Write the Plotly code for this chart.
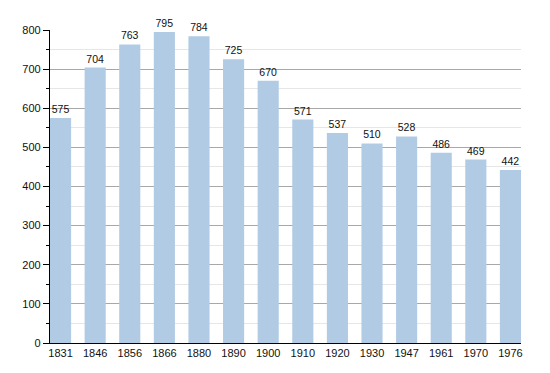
import plotly.graph_objects as go

years = ["1831", "1846", "1856", "1866", "1880", "1890", "1900", "1910", "1920", "1930", "1947", "1961", "1970", "1976"]
population = [575, 704, 763, 795, 784, 725, 670, 571, 537, 510, 528, 486, 469, 442]

bar_frac = 0.61

fig = go.Figure(go.Bar(
    x=years, y=population,
    marker=dict(color="#b1cbe5", line=dict(width=0)),
    width=bar_frac,
    text=[str(v) for v in population],
    textposition="outside",
    textfont=dict(family="Liberation Sans, Arial, sans-serif", size=10.5, color="#111"),
    cliponaxis=False,
))

# page body has an 8px default margin; compensate so the plot area lands at x 50-521, y 30-343
fig.update_layout(
    width=550, height=373,
    margin=dict(l=42, r=37, t=22, b=38, autoexpand=False),
    paper_bgcolor="white", plot_bgcolor="white",
    showlegend=False,
    font=dict(family="Liberation Sans, Arial, sans-serif", size=11, color="#111"),
    xaxis=dict(
        type="category",
        range=[-bar_frac / 2, len(years) - 1 + bar_frac / 2],
        showline=True, linecolor="black", linewidth=1.2,
        ticks="", showgrid=False,
        tickfont=dict(size=11),
        automargin=False,
    ),
    yaxis=dict(
        range=[0, 800], dtick=100,
        showline=True, linecolor="black", linewidth=1.2,
        ticks="outside", ticklen=6, tickcolor="black",
        showgrid=True, gridcolor="#a8a8a8", gridwidth=1,
        zeroline=False,
        tickfont=dict(size=11),
        automargin=False,
        minor=dict(dtick=50, ticks="outside", ticklen=3, tickcolor="black",
                   showgrid=True, gridcolor="#e6e6e6", gridwidth=1),
    ),
)

fig.write_html("out.html")
